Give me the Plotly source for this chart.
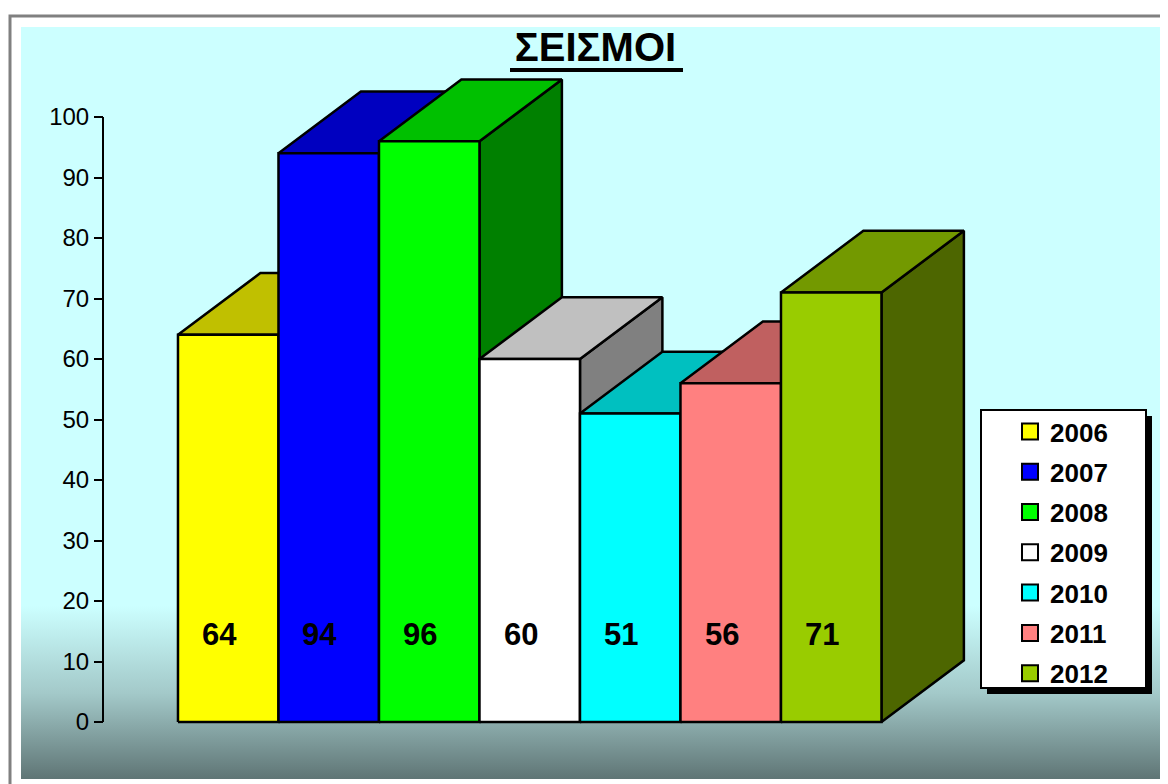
import plotly.graph_objects as go

# data
years = ["2006", "2007", "2008", "2009", "2010", "2011", "2012"]
quakes = [64, 94, 96, 60, 51, 56, 71]
y_ticks = [0, 10, 20, 30, 40, 50, 60, 70, 80, 90, 100]

# face colours: front / top (shaded) / side (darker)
front_colors = ["#FFFF00", "#0000FF", "#00FF00", "#FFFFFF", "#00FFFF", "#FF8080", "#99CC00"]
top_colors = ["#C0C000", "#0000C0", "#00C000", "#C0C0C0", "#00C0C0", "#C06060", "#739900"]
side_colors = ["#808000", "#000080", "#008000", "#808080", "#008080", "#804040", "#4D6600"]

FONT = "Arial, Liberation Sans, sans-serif"
OFF = 8  # page body margin
W, H = 1168 - OFF, 784 - OFF
M_L, M_R, M_T, M_B = 21 - OFF, 0, 27 - OFF, 5
PLOT_W = W - M_L - M_R
PLOT_H = H - M_T - M_B

# axis ranges (one bar = 1 unit on x)
X_RANGE = [-2.062, -2.062 + PLOT_W / 100.5]
Y_RANGE = [-9.42, 114.88]
DX, DY = 0.82, 10.2  # 3d depth offset

fig = go.Figure()

# gradient background of the chart area
fig.add_trace(go.Scatter(
    x=[X_RANGE[0], X_RANGE[1], X_RANGE[1], X_RANGE[0], X_RANGE[0]],
    y=[Y_RANGE[0], Y_RANGE[0], Y_RANGE[1], Y_RANGE[1], Y_RANGE[0]],
    mode="none", fill="toself",
    fillgradient=dict(type="vertical", start=Y_RANGE[0], stop=Y_RANGE[1],
                      colorscale=[[0, "#5F7575"], [0.114, "#A3C9C9"],
                                  [0.23, "#CCFFFF"], [1, "#CCFFFF"]]),
    hoverinfo="skip", showlegend=False,
))

# 3d boxes, drawn left to right so nearer faces overlap
for i, (yr, v) in enumerate(zip(years, quakes)):
    xl, xr = i - 0.5, i + 0.5
    faces = [
        ([xr, xr + DX, xr + DX, xr, xr], [0, DY, v + DY, v, 0], side_colors[i]),
        ([xl, xr, xr + DX, xl + DX, xl], [v, v, v + DY, v + DY, v], top_colors[i]),
        ([xl, xr, xr, xl, xl], [0, 0, v, v, 0], front_colors[i]),
    ]
    for fx, fy, col in faces:
        fig.add_trace(go.Scatter(
            x=fx, y=fy, mode="lines", fill="toself", fillcolor=col,
            line=dict(color="black", width=2.5), hoverinfo="skip", showlegend=False,
        ))

# legend entries
for yr, col in zip(years, front_colors):
    fig.add_trace(go.Scatter(
        x=[None], y=[None], mode="markers", name=yr, legendgroup=yr,
        marker=dict(symbol="square", size=18, color=col, line=dict(color="black", width=2)),
    ))

# value labels on bar fronts
for i, v in enumerate(quakes):
    fig.add_annotation(x=i, y=14.5, text=str(v), showarrow=False, xshift=-9,
                       font=dict(family=FONT, size=31, color="black", weight="bold"))


def px_x(p):
    return (p - OFF - M_L) / PLOT_W


def px_y(p):
    return (H - M_B - (p - OFF)) / PLOT_H


shapes = [
    # outer grey frame
    dict(type="rect", xref="paper", yref="paper", x0=px_x(10), x1=px_x(1200),
         y0=px_y(800), y1=px_y(16), line=dict(color="#808080", width=3), layer="below"),
    # y axis line
    dict(type="line", xref="paper", yref="y", x0=px_x(103), x1=px_x(103), y0=0, y1=100,
         line=dict(color="black", width=2)),
    # title underline
    dict(type="line", xref="paper", yref="paper", x0=px_x(510), x1=px_x(683),
         y0=px_y(70), y1=px_y(70), line=dict(color="black", width=4)),
    # legend shadow + box
    dict(type="rect", xref="paper", yref="paper", x0=px_x(987), x1=px_x(1152),
         y0=px_y(694), y1=px_y(416), fillcolor="black", line=dict(width=0)),
    dict(type="rect", xref="paper", yref="paper", x0=px_x(981), x1=px_x(1146),
         y0=px_y(688), y1=px_y(410), fillcolor="white", line=dict(color="black", width=2)),
]

fig.update_layout(
    width=W, height=H,
    margin=dict(l=M_L, r=M_R, t=M_T, b=M_B),
    paper_bgcolor="white", plot_bgcolor="rgba(0,0,0,0)",
    title=dict(text="ΣΕΙΣΜΟΙ", x=(595.5 - OFF) / W, xanchor="center",
               y=1 - (47 - OFF) / H, yanchor="middle",
               font=dict(family=FONT, size=40, color="black", weight="bold")),
    shapes=shapes,
    showlegend=True,
    legend=dict(x=px_x(1010), xanchor="left", y=px_y(408), yanchor="top",
                bgcolor="rgba(0,0,0,0)", borderwidth=0, tracegroupgap=3.5,
                font=dict(family=FONT, size=26, color="black", weight="bold")),
    xaxis=dict(range=X_RANGE, visible=False, fixedrange=True),
    yaxis=dict(range=Y_RANGE, anchor="free", position=px_x(103), tickvals=y_ticks,
               ticks="outside", ticklen=9, tickwidth=2, tickcolor="black",
               showgrid=False, zeroline=False, showline=False,
               tickfont=dict(family=FONT, size=24, color="black"), fixedrange=True),
)

fig.write_html("out.html")
